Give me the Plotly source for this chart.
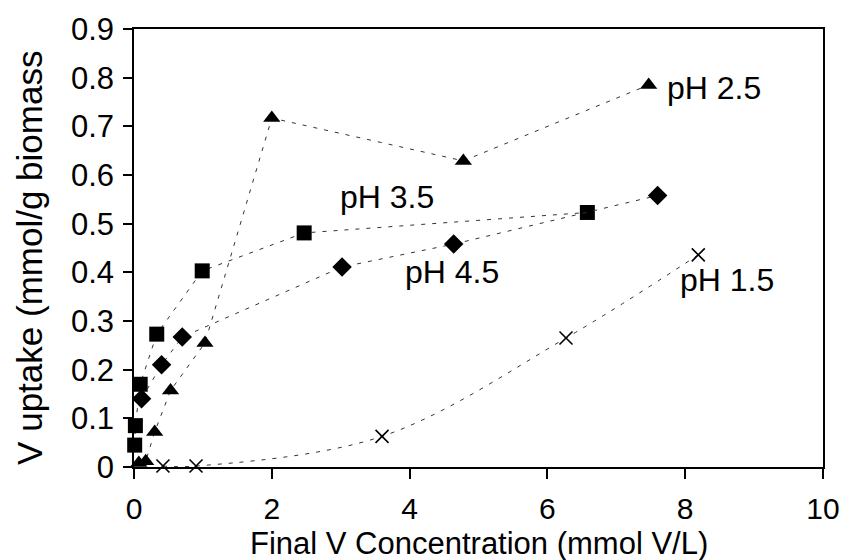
import plotly.graph_objects as go

# ---- data ----
ph25_x = [0.07, 0.17, 0.30, 0.53, 1.03, 2.00, 4.78, 7.47]
ph25_y = [0.008, 0.012, 0.072, 0.157, 0.255, 0.717, 0.629, 0.785]

ph35_x = [0.01, 0.02, 0.09, 0.33, 0.99, 2.47, 6.58]
ph35_y = [0.045, 0.085, 0.170, 0.273, 0.403, 0.481, 0.523]

ph45_x = [0.11, 0.40, 0.70, 3.02, 4.64, 7.60]
ph45_y = [0.140, 0.210, 0.267, 0.411, 0.458, 0.558]

ph15_x = [0.42, 0.90, 3.60, 6.27, 8.19]
ph15_y = [0.002, 0.002, 0.063, 0.265, 0.436]

labels = ["pH 2.5", "pH 3.5", "pH 4.5", "pH 1.5"]
label_x = [7.71, 2.96, 5.32, 7.90]
label_y = [0.778, 0.554, 0.401, 0.385]
label_anchor = ["left", "left", "right", "left"]

x_ticks = [0, 2, 4, 6, 8, 10]
y_ticks = [0, 0.1, 0.2, 0.3, 0.4, 0.5, 0.6, 0.7, 0.8, 0.9]

FONT = "Arial, Liberation Sans, sans-serif"
DASH = "4px,7px"

fig = go.Figure()

def add_series(xs, ys, symbol, size, shape="linear", mline=0):
    fig.add_trace(go.Scatter(
        x=xs, y=ys, mode="lines+markers", cliponaxis=False,
        line=dict(color="#333", width=1, dash=DASH, shape=shape),
        marker=dict(symbol=symbol, size=size, color="black",
                    line=dict(color="black", width=mline)),
        showlegend=False))

add_series(ph25_x, ph25_y, "triangle-up", 15)
add_series(ph35_x, ph35_y, "square", 15)
add_series(ph45_x, ph45_y, "diamond", 15)
add_series(ph15_x, ph15_y, "x-thin-open", 13, shape="spline", mline=1.6)

for t, x, y, a in zip(labels, label_x, label_y, label_anchor):
    fig.add_annotation(x=x, y=y, text=t, showarrow=False, xanchor=a,
                       yanchor="middle", font=dict(size=32, color="black", family=FONT))

# axis titles
fig.add_annotation(xref="paper", yref="paper", x=0.5, y=-0.175, text="Final V Concentration (mmol V/L)",
                   showarrow=False, xanchor="center", yanchor="middle",
                   font=dict(size=31, color="black", family=FONT))
fig.add_annotation(xref="paper", yref="paper", x=-0.152, y=0.478, text="V uptake (mmol/g biomass",
                   showarrow=False, xanchor="center", yanchor="middle", textangle=-90,
                   font=dict(size=35, color="black", family=FONT))

fig.update_xaxes(range=[0, 10], tickvals=x_ticks, ticktext=[str(v) for v in x_ticks],
                 ticks="outside", ticklen=10, tickwidth=1.5, tickcolor="black",
                 showline=True, linecolor="black", linewidth=1.5, mirror=True,
                 showgrid=False, zeroline=False, ticklabelstandoff=4,
                 tickfont=dict(size=30, color="black", family=FONT))
fig.update_yaxes(range=[0, 0.9], tickvals=y_ticks, ticktext=[f"{v:g}" for v in y_ticks],
                 ticks="outside", ticklen=9, tickwidth=1.5, tickcolor="black",
                 showline=True, linecolor="black", linewidth=1.5, mirror=True,
                 showgrid=False, zeroline=False, ticklabelstandoff=3,
                 tickfont=dict(size=31, color="black", family=FONT))

fig.update_layout(width=852, height=560, plot_bgcolor="white", paper_bgcolor="white",
                  margin=dict(l=134, r=23, t=25, b=93), showlegend=False)

fig.write_html("out.html")
